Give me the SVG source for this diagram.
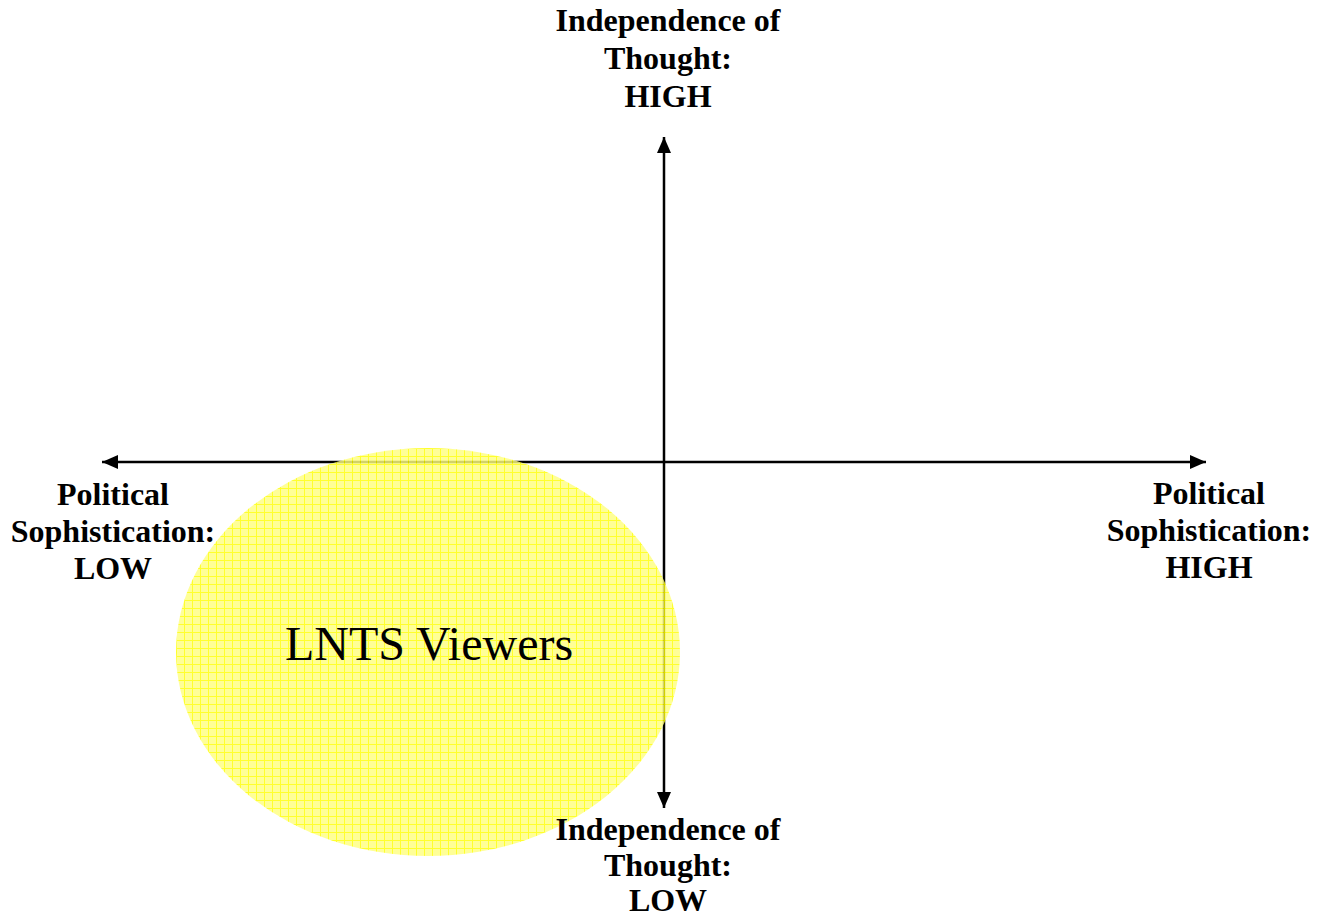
<svg xmlns="http://www.w3.org/2000/svg" width="1329" height="919" viewBox="0 0 1329 919">
<style>
.lbl{font-family:"Liberation Serif","Times New Roman",serif;font-weight:bold;font-size:32px;fill:#000;text-anchor:middle}
.big{font-family:"Liberation Serif","Times New Roman",serif;font-size:48px;fill:#000;text-anchor:middle}
.axis{stroke:#000;stroke-width:2.5;fill:none}
</style>
<defs>
<marker id="ah" viewBox="0 0 16 14" refX="16" refY="7" markerWidth="16" markerHeight="14" markerUnits="userSpaceOnUse" orient="auto-start-reverse">
<path d="M0,0 L16,7 L0,14 z" fill="#000"/>
</marker>
<pattern id="grid" width="8" height="8" patternUnits="userSpaceOnUse">
<rect width="8" height="8" fill="#ffff80"/>
<path d="M0,0.5 H8 M0.5,0 V8" stroke="#ffff00" stroke-width="1"/>
</pattern>
</defs>
<g id="connectors">
<line class="axis" x1="102" y1="462" x2="1206" y2="462" marker-start="url(#ah)" marker-end="url(#ah)"/>
<line class="axis" x1="664" y1="137" x2="664" y2="808" marker-start="url(#ah)" marker-end="url(#ah)"/>
</g>
<g id="lnts-viewers">
<ellipse cx="428" cy="652" rx="252" ry="204" fill="url(#grid)" opacity="0.82"/>
<text class="big" x="429" y="660">LNTS Viewers</text>
</g>
<g id="top-label">
<text class="lbl" x="668" y="31">Independence of</text>
<text class="lbl" x="668" y="69">Thought:</text>
<text class="lbl" x="668" y="107">HIGH</text>
</g>
<g id="bottom-label">
<text class="lbl" x="668" y="840">Independence of</text>
<text class="lbl" x="668" y="876">Thought:</text>
<text class="lbl" x="668" y="911">LOW</text>
</g>
<g id="left-label">
<text class="lbl" x="113" y="505">Political</text>
<text class="lbl" x="113" y="542">Sophistication:</text>
<text class="lbl" x="113" y="579">LOW</text>
</g>
<g id="right-label">
<text class="lbl" x="1209" y="504">Political</text>
<text class="lbl" x="1209" y="541">Sophistication:</text>
<text class="lbl" x="1209" y="578">HIGH</text>
</g>
</svg>
